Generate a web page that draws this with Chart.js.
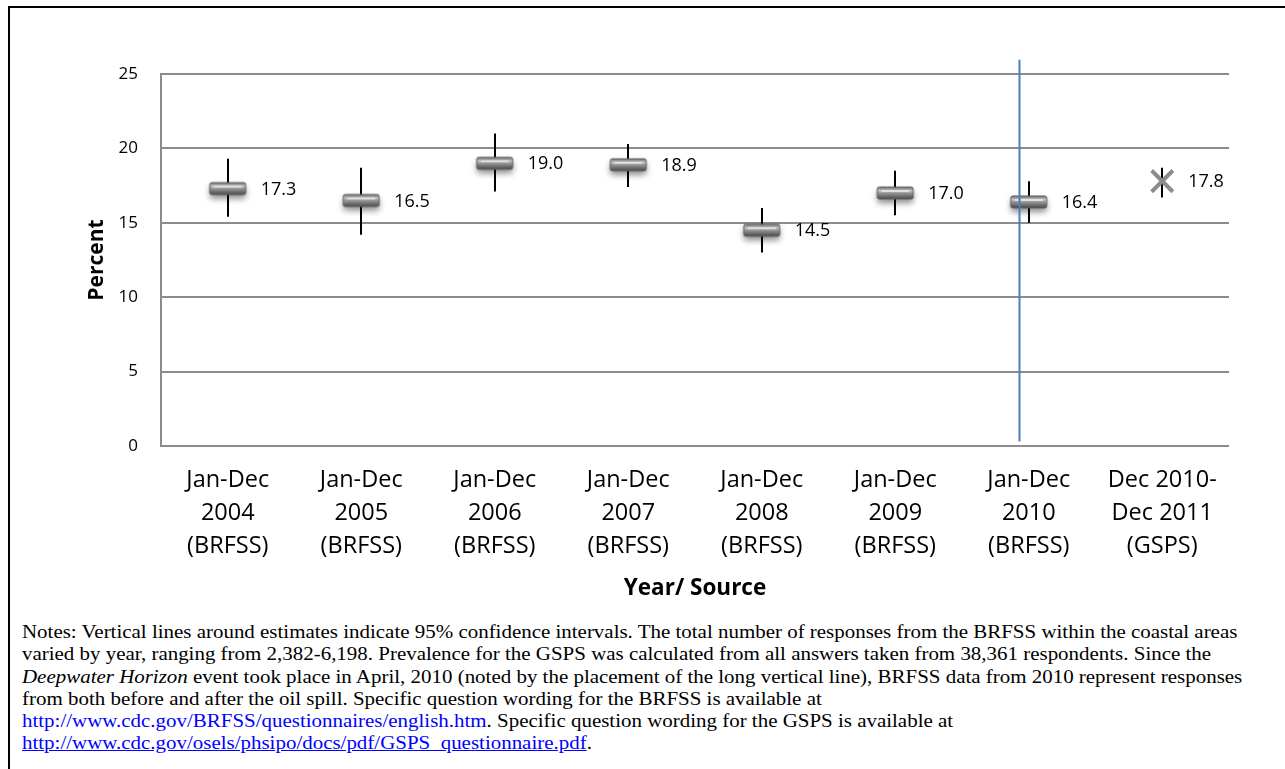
<!DOCTYPE html>
<html>
<head>
<meta charset="utf-8">
<script src="https://cdn.jsdelivr.net/npm/chart.js@4.4.1/dist/chart.umd.min.js"></script>
<style>
  html, body { margin: 0; padding: 0; background: #fff; }
  #page { position: relative; width: 1285px; height: 769px; overflow: hidden; }
  #frame { position: absolute; left: 8px; top: 6px; right: -4px; bottom: -4px;
           border-top: 2px solid #000; border-left: 2px solid #000; }
  #chart { position: absolute; left: 0; top: 0; }
  #notes { position: absolute; left: 22px; top: 621px;
           font-family: "Liberation Serif", "Times New Roman", serif; font-size: 19.5px;
           line-height: 22.3px; color: #000; white-space: nowrap;
           transform: scaleX(1.074); transform-origin: 0 0; }
  #notes a { color: #0000ff; text-decoration: none; }
  #notes a.u { text-decoration: underline; }
</style>
</head>
<body>
<div id="page">
  <div id="frame"></div>
  <canvas id="chart" width="1285" height="610"></canvas>
  <div id="notes">
    Notes: Vertical lines around estimates indicate 95% confidence intervals. The total number of responses from the BRFSS within the coastal areas<br>
    varied by year, ranging from 2,382-6,198. Prevalence for the GSPS was calculated from all answers taken from 38,361 respondents. Since the<br>
    <i>Deepwater Horizon</i> event took place in April, 2010 (noted by the placement of the long vertical line), BRFSS data from 2010 represent responses<br>
    from both before and after the oil spill. Specific question wording for the BRFSS is available at<br>
    <a href="#">http://www.cdc.gov/BRFSS/questionnaires/english.htm</a>. Specific question wording for the GSPS is available at<br>
    <a class="u" href="#">http://www.cdc.gov/osels/phsipo/docs/pdf/GSPS_questionnaire.pdf</a>.
  </div>
</div>
<script>
const periods = [
  ['Jan-Dec', '2004', '(BRFSS)'],
  ['Jan-Dec', '2005', '(BRFSS)'],
  ['Jan-Dec', '2006', '(BRFSS)'],
  ['Jan-Dec', '2007', '(BRFSS)'],
  ['Jan-Dec', '2008', '(BRFSS)'],
  ['Jan-Dec', '2009', '(BRFSS)'],
  ['Jan-Dec', '2010', '(BRFSS)'],
  ['Dec 2010-', 'Dec 2011', '(GSPS)']
];
const brfss = [17.3, 16.5, 19.0, 18.9, 14.5, 17.0, 16.4, null];
const gsps = [null, null, null, null, null, null, null, 17.8];
const ciLow = [15.4, 14.2, 17.1, 17.4, 13.0, 15.5, 15.0, 16.7];
const ciHigh = [19.3, 18.7, 21.0, 20.3, 16.0, 18.5, 17.8, 18.7];
const yTicks = [0, 5, 10, 15, 20, 25];

// April 2010, a little before the middle of the 2010 column
const spillAt = 5.93;
const spillSpan = [0.3, 25.95];

const FONT = '"Open Sans", sans-serif';

// shaded bar used as the marker for the BRFSS estimates
function barMarker() {
  const c = document.createElement('canvas');
  c.width = 50; c.height = 32;
  const g = c.getContext('2d');
  const x = 7, y = 10, w = 36, h = 12, r = 2;
  function shape() {
    g.beginPath();
    g.moveTo(x + r, y);
    g.arcTo(x + w, y, x + w, y + h, r);
    g.arcTo(x + w, y + h, x, y + h, r);
    g.arcTo(x, y + h, x, y, r);
    g.arcTo(x, y, x + w, y, r);
    g.closePath();
  }
  g.shadowColor = 'rgba(0,0,0,0.45)';
  g.shadowBlur = 6;
  g.shadowOffsetY = 4;
  const grad = g.createLinearGradient(0, y, 0, y + h);
  grad.addColorStop(0, '#707070');
  grad.addColorStop(0.3, '#c4c4c4');
  grad.addColorStop(0.5, '#969696');
  grad.addColorStop(1, '#484848');
  g.fillStyle = grad;
  shape();
  g.fill();
  g.shadowColor = 'transparent';
  g.strokeStyle = '#606060';
  g.lineWidth = 1;
  shape();
  g.stroke();
  g.fillStyle = 'rgba(235,235,235,0.8)';
  g.fillRect(x + 4, y + 3, w - 8, 2);
  return c;
}

const ciBars = {
  id: 'ciBars',
  beforeDatasetsDraw(chart) {
    const { ctx, scales: { x, y } } = chart;
    ctx.save();
    ctx.strokeStyle = '#000';
    ctx.lineWidth = 2;
    periods.forEach((p, i) => {
      const px = Math.round(x.getPixelForValue(i));
      ctx.beginPath();
      ctx.moveTo(px, y.getPixelForValue(ciHigh[i]));
      ctx.lineTo(px, y.getPixelForValue(ciLow[i]));
      ctx.stroke();
    });
    ctx.restore();
  }
};

const spillLine = {
  id: 'spillLine',
  afterDatasetsDraw(chart) {
    const { ctx, scales: { x, y } } = chart;
    const px = Math.round(x.getPixelForValue(spillAt)) + 0.5;
    ctx.save();
    ctx.strokeStyle = '#4a7ebb';
    ctx.lineWidth = 2;
    ctx.beginPath();
    ctx.moveTo(px, y.getPixelForValue(spillSpan[1]));
    ctx.lineTo(px, y.getPixelForValue(spillSpan[0]));
    ctx.stroke();
    ctx.restore();
  }
};

const valueLabels = {
  id: 'valueLabels',
  afterDatasetsDraw(chart) {
    const { ctx } = chart;
    ctx.save();
    ctx.font = '18px ' + FONT;
    ctx.fillStyle = '#000';
    ctx.textAlign = 'left';
    ctx.textBaseline = 'middle';
    chart.data.datasets.forEach((ds, di) => {
      chart.getDatasetMeta(di).data.forEach((pt, i) => {
        const v = ds.data[i];
        if (v === null) return;
        ctx.fillText(v.toFixed(1), pt.x + ds.labelGap, pt.y + 1);
      });
    });
    ctx.restore();
  }
};

new Chart(document.getElementById('chart'), {
  type: 'line',
  data: {
    labels: periods,
    datasets: [{
      label: 'BRFSS',
      data: brfss,
      showLine: false,
      pointStyle: barMarker(),
      labelGap: 33
    }, {
      label: 'GSPS',
      data: gsps,
      showLine: false,
      pointStyle: 'crossRot',
      pointRadius: 15,
      pointBorderColor: '#8c8c8c',
      pointBorderWidth: 4,
      labelGap: 26
    }]
  },
  options: {
    responsive: false,
    animation: false,
    events: [],
    layout: { padding: { top: 74, right: 56, bottom: 0, left: 0 } },
    plugins: { legend: { display: false }, tooltip: { enabled: false } },
    scales: {
      x: {
        offset: true,
        grid: { display: false, drawTicks: false },
        border: { display: false },
        ticks: { color: '#000', font: { family: FONT, size: 23.5, lineHeight: 1.4 }, padding: 18, maxRotation: 0 },
        title: { display: true, text: 'Year/ Source', color: '#000',
                 font: { family: FONT, size: 22.5, weight: 'bold' }, padding: { top: 0, bottom: 8 } },
        afterFit(s) { s.height = 164; }
      },
      y: {
        min: 0,
        max: 25,
        afterBuildTicks(s) { s.ticks = yTicks.map(v => ({ value: v })); },
        grid: { color: '#8c8c8c', lineWidth: 2, drawTicks: false },
        border: { display: true, color: '#8c8c8c', width: 2 },
        ticks: { color: '#000', font: { family: FONT, size: 17 }, padding: 23 },
        title: { display: true, text: 'Percent', color: '#000',
                 font: { family: FONT, size: 21, weight: 'bold' }, padding: { top: 84, bottom: 0 } },
        afterFit(s) { s.width = 161; }
      }
    }
  },
  plugins: [ciBars, spillLine, valueLabels]
});
</script>
</body>
</html>
